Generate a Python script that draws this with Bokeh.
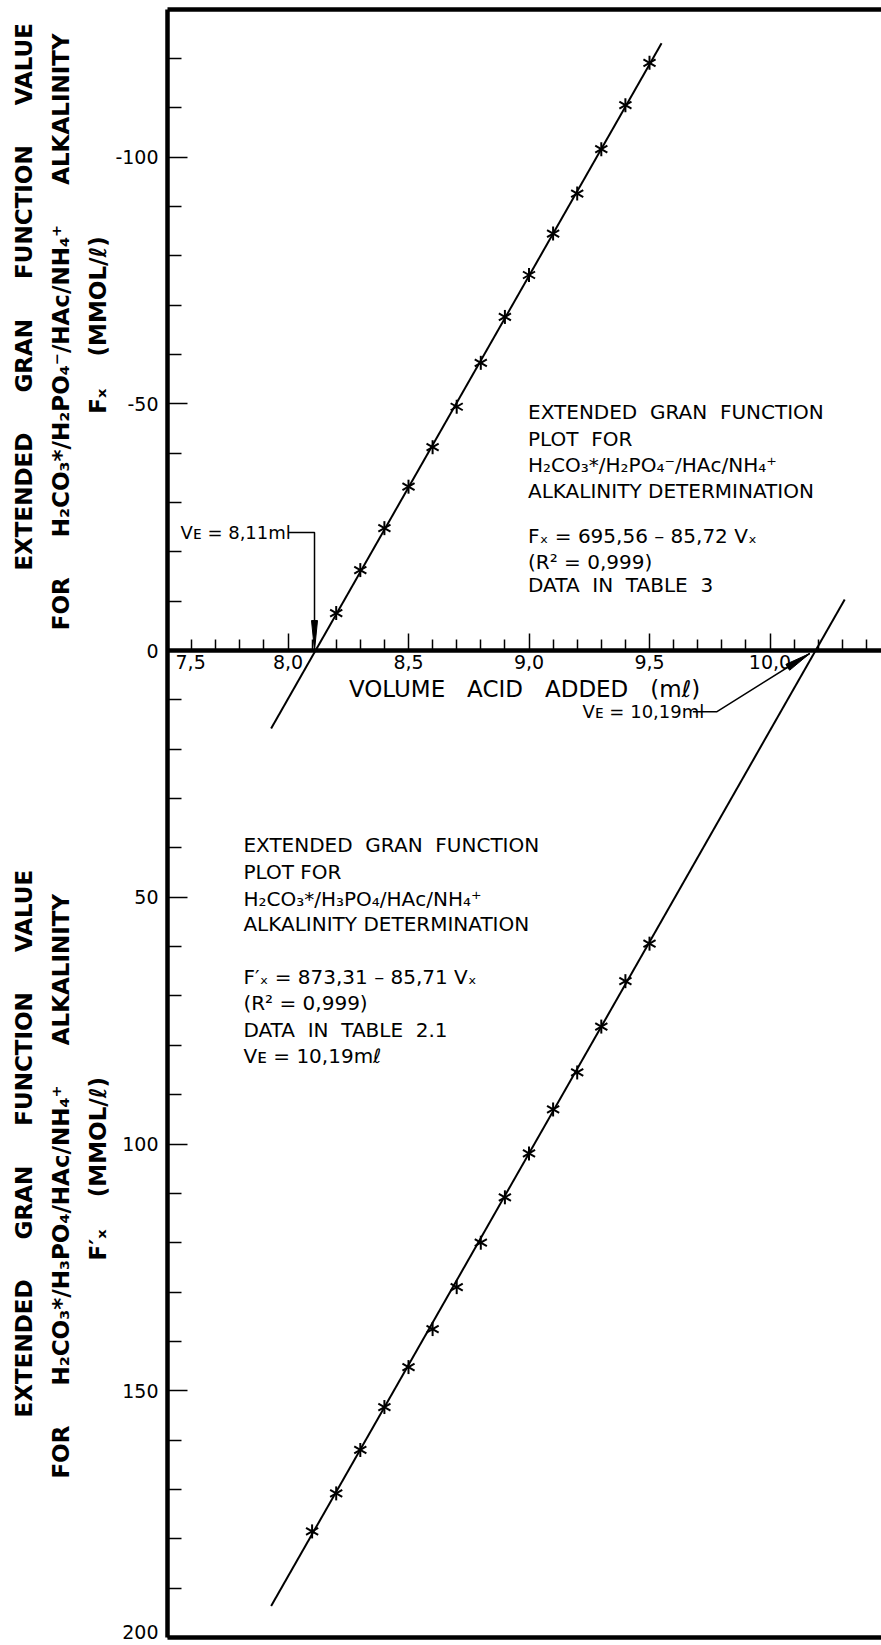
import math
from bokeh.plotting import figure
from bokeh.models import Range1d, LinearAxis, FixedTicker, Label
from bokeh.embed import file_html
from bokeh.resources import INLINE

# ---------------- data ----------------
vol_upper = [8.2, 8.3, 8.4, 8.5, 8.6, 8.7, 8.8, 8.9, 9.0, 9.1, 9.2, 9.3, 9.4, 9.5]
f_upper = [-7.6, -16.3, -24.8, -33.2, -41.2, -49.4, -58.3, -67.6, -76.1, -84.5, -92.6, -101.6, -110.5, -119.1]

vol_lower = [8.1, 8.2, 8.3, 8.4, 8.5, 8.6, 8.7, 8.8, 8.9, 9.0, 9.1, 9.2, 9.3, 9.4, 9.5]
f_lower = [178.5, 170.8, 162.0, 153.3, 145.2, 137.5, 129.0, 120.0, 110.8, 101.9, 93.0, 85.5, 76.2, 67.0, 59.4]

# regression lines printed on the chart: F = a + b * V
fit_upper = (695.56, -85.72)
fit_lower = (873.31, -85.71)
fit_upper_x = [7.93, 9.55]
fit_lower_x = [7.93, 10.31]

ve_upper = 8.11
ve_lower = 10.19

x_major = [7.5, 8.0, 8.5, 9.0, 9.5, 10.0]
x_labels = ["7,5", "8,0", "8,5", "9,0", "9,5", "10,0"]
x_minor = [7.6, 7.7, 7.8, 7.9, 8.1, 8.2, 8.3, 8.4, 8.6, 8.7, 8.8, 8.9,
           9.1, 9.2, 9.3, 9.4, 9.6, 9.7, 9.8, 9.9, 10.1, 10.2, 10.3, 10.4]
y_major = [-100, -50, 0, 50, 100, 150, 200]
y_labels = ["-100", "-50", "0", "50", "100", "150", "200"]
y_minor = [-120, -110, -90, -80, -70, -60, -40, -30, -20, -10,
           10, 20, 30, 40, 60, 70, 80, 90, 110, 120, 130, 140,
           160, 170, 180, 190]

# ---------------- layout constants ----------------
W, H = 881, 1645
PXX = 241.0       # px per mL
PXY = 4.935       # px per unit (downwards)
AX_LEFT_PX = 167  # pixel column of the y axis
X0 = 7.5                        # axis start (mL)
X1 = X0 + (W - AX_LEFT_PX) / PXX
Y_TOP, Y_BOTTOM = -129.9, 200   # drawn frame limits
RX0 = X0 - AX_LEFT_PX / PXX     # plotting range starts at the canvas edge
RY_TOP = Y_TOP - 9 / PXY
RY_BOTTOM = Y_BOTTOM + 8 / PXY
FONT = "DejaVu Sans"
NB = "\u00a0"

p = figure(width=W, height=H, x_range=Range1d(RX0, X1), y_range=Range1d(RY_BOTTOM, RY_TOP),
           x_axis_location=None, y_axis_location=None,
           output_backend="svg", toolbar_location=None, min_border=0)
p.outline_line_color = None
p.grid.visible = False
p.background_fill_color = "white"
p.border_fill_color = "white"

# y axis at V = 7,5
yover = {t: l for t, l in zip(y_major, y_labels)}
yover[y_major[-1]] = ""
yax = LinearAxis(fixed_location=X0, bounds=(Y_TOP, Y_BOTTOM),
                 ticker=FixedTicker(ticks=y_major, minor_ticks=y_minor),
                 major_label_overrides=yover,
                 axis_line_width=4.5, axis_line_color="black",
                 major_tick_in=20, major_tick_out=0, minor_tick_in=14, minor_tick_out=0,
                 major_tick_line_width=1.5, minor_tick_line_width=1.5,
                 major_tick_line_color="black", minor_tick_line_color="black",
                 major_label_text_font=FONT, major_label_text_font_size="19px",
                 major_label_text_color="black", major_label_standoff=9)
p.add_layout(yax, "left")

# x axis drawn at F = 0
xover = {t: l for t, l in zip(x_major, x_labels)}
xover[x_major[0]] = ""
xax = LinearAxis(fixed_location=0, bounds=(X0, X1),
                 ticker=FixedTicker(ticks=x_major, minor_ticks=x_minor),
                 major_label_overrides=xover,
                 axis_label="VOLUME" + NB * 3 + "ACID" + NB * 3 + "ADDED" + NB * 3 + "(m\u2113)",
                 axis_line_width=4.5, axis_line_color="black",
                 major_tick_in=17, major_tick_out=0, minor_tick_in=11, minor_tick_out=0,
                 major_tick_line_width=1.5, minor_tick_line_width=1.5,
                 major_tick_line_color="black", minor_tick_line_color="black",
                 major_label_text_font=FONT, major_label_text_font_size="19px",
                 major_label_text_color="black", major_label_standoff=4,
                 axis_label_text_font=FONT, axis_label_text_font_size="23px",
                 axis_label_text_font_style="normal", axis_label_text_color="black",
                 axis_label_standoff=4)
p.add_layout(xax, "below")

# top and bottom frame lines
p.line([X0, X1], [Y_TOP, Y_TOP], line_color="black", line_width=4.5)
p.line([X0, X1], [Y_BOTTOM, Y_BOTTOM], line_color="black", line_width=4.5)

# regression lines
for xs, (a, b) in ((fit_upper_x, fit_upper), (fit_lower_x, fit_lower)):
    p.line(xs, [a + b * v for v in xs], line_color="black", line_width=2)

# data points: six-armed stars
for vx, fy in ((vol_upper, f_upper), (vol_lower, f_lower)):
    for ang in (90, 30, 150):
        p.scatter(vx, fy, marker="dash", size=14, angle=math.radians(ang),
                  line_width=2, line_color="black")


def head(tip_x, tip_y, from_x, from_y, length_px, half_px):
    dx = (tip_x - from_x) * PXX
    dy = (tip_y - from_y) * PXY
    L = math.hypot(dx, dy)
    ux, uy = dx / L, dy / L
    bx, by = -ux * length_px, -uy * length_px
    nx, ny = -uy, ux
    pts = [(0, 0), (bx + nx * half_px, by + ny * half_px), (bx - nx * half_px, by - ny * half_px)]
    return [tip_x + ox / PXX for ox, oy in pts], [tip_y + oy / PXY for ox, oy in pts]


# V_E arrow, upper curve
ly = -23.9
p.line([8.00, ve_upper, ve_upper], [ly, ly, -5.0], line_color="black", line_width=1.5)
hx, hy = head(ve_upper, 0.0, ve_upper, ly, 30, 3)
p.patch(hx, hy, fill_color="black", line_color="black", line_width=1)

# V_E arrow, lower curve
ly2 = 12.4
tipx, tipy = ve_lower - 0.025, 0.6
p.line([9.68, 9.78, tipx], [ly2, ly2, tipy], line_color="black", line_width=1.5)
hx, hy = head(tipx, tipy, 9.78, ly2, 26, 3.5)
p.patch(hx, hy, fill_color="black", line_color="black", line_width=1)


def txt(x, y, s, size="20px", align="left", baseline="middle", **kw):
    p.add_layout(Label(x=x, y=y, text=s, text_font=FONT, text_font_size=size,
                       text_align=align, text_baseline=baseline, text_color="black", **kw))


# first x tick label (right of the y axis) and last y tick label (above the bottom edge)
txt(x_major[0] + 8 / PXX, 1.0, x_labels[0], size="19px", baseline="top")
txt(X0 - 9 / PXX, y_major[-1] + 1 / PXY, y_labels[-1], size="19px", align="right", baseline="bottom")

txt(7.554, ly, "V\u1d07 = 8,11ml", size="18px")
txt(9.222, ly2, "V\u1d07 = 10,19ml", size="18px")

upper_lines = ["EXTENDED" + NB * 2 + "GRAN" + NB * 2 + "FUNCTION",
               "PLOT" + NB * 2 + "FOR",
               "H\u2082CO\u2083*/H\u2082PO\u2084\u207b/HA\u1d04/NH\u2084\u207a",
               "ALKALINITY" + NB + "DETERMINATION",
               "F\u2093 = 695,56 \u2013 85,72 V\u2093",
               "(R\u00b2 = 0,999)",
               "DATA" + NB * 2 + "IN" + NB * 2 + "TABLE" + NB * 2 + "3"]
upper_y = [-48.3, -42.9, -37.5, -32.4, -23.3, -17.9, -13.2]
for s, y in zip(upper_lines, upper_y):
    txt(8.996, y, s)

lower_lines = ["EXTENDED" + NB * 2 + "GRAN" + NB * 2 + "FUNCTION",
               "PLOT" + NB + "FOR",
               "H\u2082CO\u2083*/H\u2083PO\u2084/HA\u1d04/NH\u2084\u207a",
               "ALKALINITY" + NB + "DETERMINATION",
               "F\u2032\u2093 = 873,31 \u2013 85,71 V\u2093",
               "(R\u00b2 = 0,999)",
               "DATA" + NB * 2 + "IN" + NB * 2 + "TABLE" + NB * 2 + "2.1",
               "V\u1d07 = 10,19m\u2113"]
lower_y = [39.5, 44.8, 50.3, 55.5, 66.1, 71.4, 76.9, 82.1]
for s, y in zip(lower_lines, lower_y):
    txt(7.815, y, s)

# rotated y-axis titles in the left margin
G = NB * 5
title_upper = ["EXTENDED" + G + "GRAN" + G + "FUNCTION" + G + "VALUE",
               "FOR" + G + "H\u2082CO\u2083*/H\u2082PO\u2084\u207b/HA\u1d04/NH\u2084\u207a" + G + "ALKALINITY",
               "F\u2093" + NB * 4 + "(MMOL/\u2113)"]
title_lower = ["EXTENDED" + G + "GRAN" + G + "FUNCTION" + G + "VALUE",
               "FOR" + G + "H\u2082CO\u2083*/H\u2083PO\u2084/HA\u1d04/NH\u2084\u207a" + G + "ALKALINITY",
               "F\u2032\u2093" + NB * 4 + "(MMOL/\u2113)"]
title_px = [23, 60, 97]
title_upper_y = [-16.2, -4.1, -48.0]
title_lower_y = [155.4, 167.8, 123.6]
for lines, ys in ((title_upper, title_upper_y), (title_lower, title_lower_y)):
    for s, px, y in zip(lines, title_px, ys):
        p.add_layout(Label(x=X0 + (px - AX_LEFT_PX) / PXX, y=y, text=s,
                           angle=math.pi / 2, text_font=FONT, text_font_size="23px",
                           text_font_style="bold", text_align="left", text_baseline="middle",
                           text_color="black"))

open("out.html", "w").write(file_html(p, INLINE))
